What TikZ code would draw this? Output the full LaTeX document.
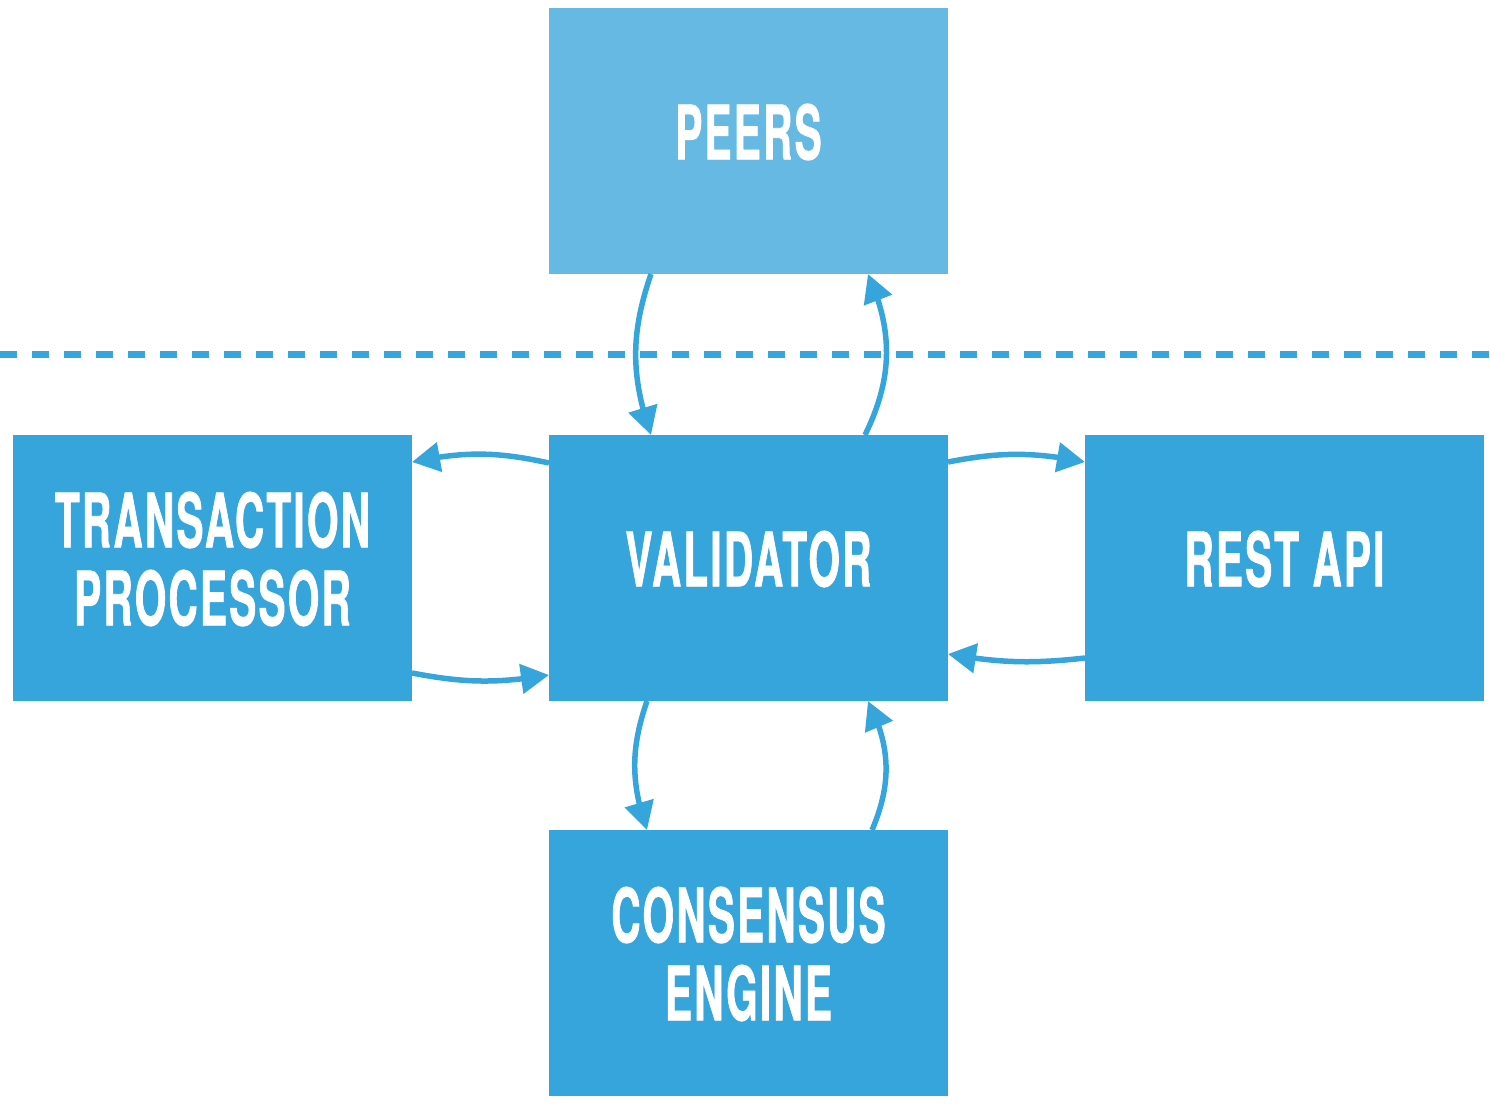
\documentclass[tikz,border=0pt]{standalone}
\usepackage{fontspec}
\usetikzlibrary{arrows.meta,bending}
\newfontfamily\dinfont[FakeStretch=0.54,FakeBold=0.9,LetterSpace=3]{TeX Gyre Heros Bold}
\definecolor{mainblue}{HTML}{35A5DB}
\definecolor{lightblue}{HTML}{66B9E2}
\begin{document}
\begin{tikzpicture}[x=1pt,y=-1pt,
  box/.style={fill=mainblue, inner sep=0pt, outer sep=0pt,
    minimum width=399pt, minimum height=266pt, anchor=north west},
  lbl/.style={text=white, font=\dinfont\fontsize{75}{78}\selectfont,
    align=center, inner sep=0pt},
  flow/.style={draw=mainblue, line width=5.5pt,
    -{Triangle[length=28pt,width=29pt]}},
  boundary/.style={draw=mainblue, line width=7pt, dash pattern=on 17pt off 15pt}]
  \useasboundingbox (0,0) rectangle (1490,1106);

  % component boxes
  \node[box, fill=lightblue] (peers) at (549,8) {};
  \node[box] (val)  at (549,435) {};
  \node[box] (tp)   at (13,435) {};
  \node[box] (rest) at (1085,435) {};
  \node[box] (ce)   at (549,830) {};

  % box captions, set slightly above centre
  \node[lbl] (peers-t) at ([yshift=9pt]peers.center) {PEERS};
  \node[lbl] (val-t)   at ([yshift=9pt]val.center) {VALIDATOR};
  \node[lbl] (tp-t)    at ([yshift=9pt]tp.center) {TRANSACTION\\PROCESSOR};
  \node[lbl] (rest-t)  at ([yshift=9pt]rest.center) {REST API};
  \node[lbl] (ce-t)    at ([yshift=9pt]ce.center) {CONSENSUS\\ENGINE};

  % network boundary
  \coordinate (bl) at (0,354);
  \coordinate (br) at (1490,354);
  \draw[boundary] (bl) -- (br);

  % message flows
  \draw[flow] ([xshift=102pt]peers.south west) to[bend right=19] ([xshift=102pt]val.north west);
  \draw[flow] ([xshift=316pt]val.north west) to[bend right=25] ([xshift=319pt]peers.south west);
  \draw[flow] ([yshift=-28pt]val.north west) to[bend right=12] ([yshift=-27pt]tp.north east);
  \draw[flow] ([yshift=-238pt]tp.north east) to[bend right=10] ([yshift=-240pt]val.north west);
  \draw[flow] ([yshift=-27pt]val.north east) to[bend left=11] ([yshift=-27pt]rest.north west);
  \draw[flow] ([yshift=-223pt]rest.north west) to[bend left=8] ([yshift=-219pt]val.north east);
  \draw[flow] ([xshift=98pt]val.south west) to[bend right=19] ([xshift=98pt]ce.north west);
  \draw[flow] ([xshift=323pt]ce.north west) to[bend right=25] ([xshift=319pt]val.south west);
\end{tikzpicture}
\end{document}
